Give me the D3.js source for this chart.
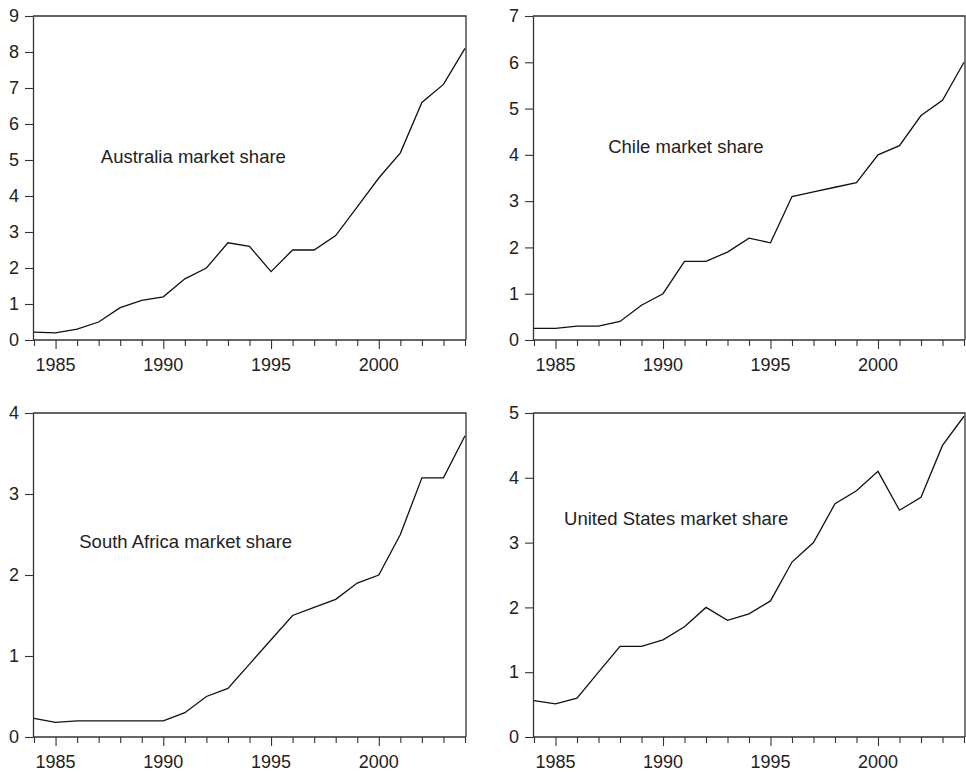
<!DOCTYPE html>
<html>
<head>
<meta charset="utf-8">
<script src="https://cdn.jsdelivr.net/npm/d3@7"></script>
<style>
  html, body { margin: 0; padding: 0; background: #fff; }
  svg { display: block; }
  text { font-family: "Liberation Sans", Arial, sans-serif; fill: #222; }
</style>
</head>
<body>
<svg id="chart" width="966" height="773"></svg>
<script>
// ---- Data ----
const years = [1984,1985,1986,1987,1988,1989,1990,1991,1992,1993,1994,1995,1996,1997,1998,1999,2000,2001,2002,2003,2004];
const australia   = [0.22,0.20,0.30,0.50,0.90,1.10,1.20,1.70,2.00,2.70,2.60,1.90,2.50,2.50,2.90,3.70,4.50,5.20,6.60,7.10,8.10];
const chile       = [0.25,0.25,0.30,0.30,0.40,0.75,1.00,1.70,1.70,1.90,2.20,2.10,3.10,3.20,3.30,3.40,4.00,4.20,4.85,5.18,6.00];
const southAfrica = [0.23,0.18,0.20,0.20,0.20,0.20,0.20,0.30,0.50,0.60,0.90,1.20,1.50,1.60,1.70,1.90,2.00,2.50,3.20,3.20,3.72];
const unitedStates= [0.56,0.51,0.60,1.00,1.40,1.40,1.50,1.70,2.00,1.80,1.90,2.10,2.70,3.00,3.60,3.80,4.10,3.50,3.70,4.50,4.95];
const titles = ["Australia market share","Chile market share","South Africa market share","United States market share"];
const yMax = [9, 7, 4, 5];
const xTickLabels = [1985, 1990, 1995, 2000];

// ---- Layout ----
const panels = [
  {series: australia,    left: 33,  right: 466, top: 16,  bottom: 340, label: [1987.1, 4.93]},
  {series: chile,        left: 533, right: 965, top: 16,  bottom: 340, label: [1987.45, 4.03]},
  {series: southAfrica,  left: 33,  right: 466, top: 413, bottom: 737, label: [1986.1, 2.33]},
  {series: unitedStates, left: 533, right: 965, top: 413, bottom: 737, label: [1985.4, 3.27]}
];

const svg = d3.select("#chart");
const axisColor = "#333";

panels.forEach((p, i) => {
  const x = d3.scaleLinear().domain([1984, 2004]).range([p.left + 1, p.right - 1]);
  const y = d3.scaleLinear().domain([0, yMax[i]]).range([p.bottom, p.top]);
  const g = svg.append("g");

  // frame (top and right)
  g.append("path")
    .attr("d", `M${p.left},${p.top}H${p.right}V${p.bottom}`)
    .attr("fill", "none").attr("stroke", axisColor).attr("stroke-width", 1.3);

  // Y axis
  const yAxis = d3.axisLeft(y).ticks(yMax[i]).tickSize(8).tickPadding(6).tickSizeOuter(0)
    .tickFormat(d3.format("d"));
  const ya = g.append("g").attr("transform", `translate(${p.left},0)`).call(yAxis);
  ya.select(".domain").attr("stroke", axisColor).attr("stroke-width", 1.3);
  ya.selectAll(".tick line").attr("stroke", axisColor).attr("stroke-width", 1.1);
  ya.selectAll(".tick text").style("font-size", "18px").attr("fill", "#222")
    .style("font-family", '"Liberation Sans", Arial, sans-serif');

  // X axis: minor ticks every year, major on labeled years
  const xa = g.append("g").attr("transform", `translate(0,${p.bottom})`)
    .call(d3.axisBottom(x).tickValues(years).tickSize(6).tickSizeOuter(0).tickFormat(""));
  xa.select(".domain").attr("d", `M${p.left},0H${p.right}`).attr("stroke", axisColor).attr("stroke-width", 1.3);
  xa.selectAll(".tick line").attr("stroke", axisColor).attr("stroke-width", 1.1)
    .attr("y2", d => xTickLabels.includes(d) ? 9 : 6);
  xa.selectAll(".tick text").remove();
  xa.selectAll(".xl").data(xTickLabels).enter().append("text")
    .attr("class", "xl")
    .attr("x", d => x(d)).attr("y", 31)
    .attr("text-anchor", "middle")
    .style("font-size", "18px")
    .text(d => d);

  // line
  const line = d3.line().x((d, j) => x(years[j])).y(d => y(d));
  g.append("path").datum(p.series)
    .attr("d", line)
    .attr("fill", "none").attr("stroke", "#111").attr("stroke-width", 1.3)
    .attr("stroke-linejoin", "miter");

  // label
  g.append("text")
    .attr("x", x(p.label[0])).attr("y", y(p.label[1]))
    .style("font-size", "18.5px")
    .text(titles[i]);
});
</script>
</body>
</html>
